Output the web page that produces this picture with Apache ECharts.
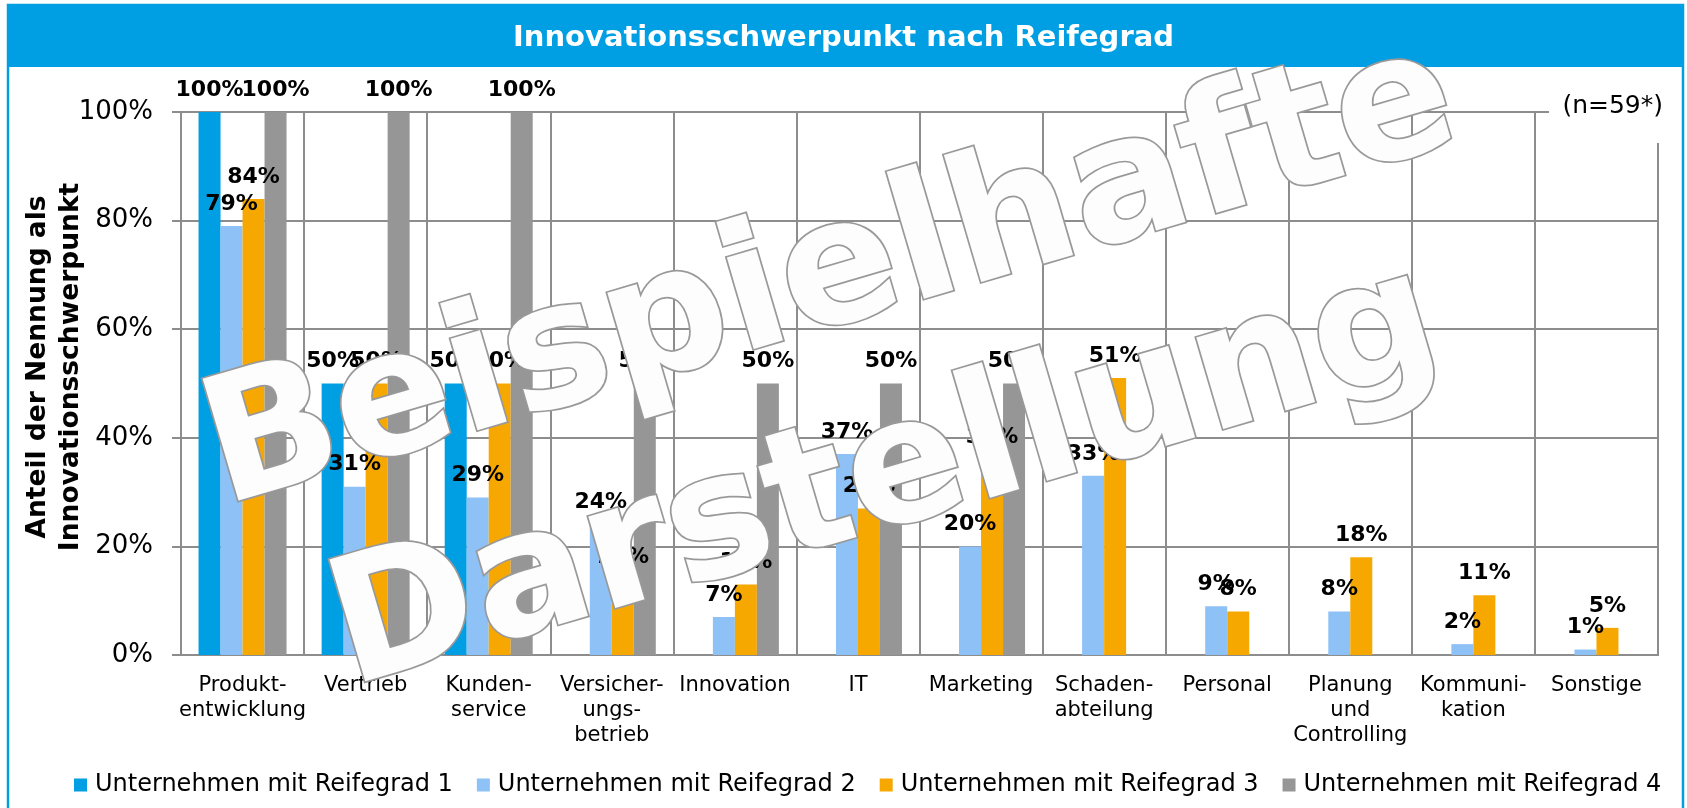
<!DOCTYPE html>
<html>
<head>
<meta charset="utf-8">
<title>Innovationsschwerpunkt nach Reifegrad</title>
<script src="https://cdn.jsdelivr.net/npm/echarts@6/dist/echarts.min.js"></script>
<style>
  html, body { margin: 0; padding: 0; background: #fff; }
  #chart { width: 1687px; height: 808px; }
</style>
</head>
<body>
<div id="chart"></div>
<script>
const categories = [
  'Produkt-\nentwicklung', 'Vertrieb', 'Kunden-\nservice', 'Versicher-\nungs-\nbetrieb',
  'Innovation', 'IT', 'Marketing', 'Schaden-\nabteilung', 'Personal',
  'Planung\nund\nControlling', 'Kommuni-\nkation', 'Sonstige'
]
const seriesNames = [
  'Unternehmen mit Reifegrad 1', 'Unternehmen mit Reifegrad 2',
  'Unternehmen mit Reifegrad 3', 'Unternehmen mit Reifegrad 4'
]
const reifegrad1 = [100, 50, 50, 0, 0, 0, 0, 0, 0, 0, 0, 0]
const reifegrad2 = [79, 31, 29, 24, 7, 37, 20, 33, 9, 8, 2, 1]
const reifegrad3 = [84, 50, 50, 14, 13, 27, 36, 51, 8, 18, 11, 5]
const reifegrad4 = [100, 100, 100, 50, 50, 50, 50, 0, 0, 0, 0, 0]
const yTicks = [0, 20, 40, 60, 80, 100]
const colors = ['#009fe3', '#8ec1f5', '#f7a800', '#969696']

const FONT = "'DejaVu Sans', Verdana, sans-serif"
const GRID_COLOR = '#8d8d8d'

const chart = echarts.init(document.getElementById('chart'))

function makeSeries(name, data, color) {
  return {
    name: name,
    type: 'bar',
    data: data,
    barWidth: 22,
    barGap: '0%',
    itemStyle: { color: color },
    label: {
      show: true,
      position: 'top',
      distance: 11,
      fontFamily: FONT,
      fontWeight: 'bold',
      fontSize: 22,
      color: '#000',
      formatter: p => (p.value > 0 ? p.value + '%' : '')
    },
    labelLayout: { moveOverlap: 'shiftY' }
  }
}

// watermark drawn over the whole chart
const watermarkStyle = {
  fill: '#fdfdfd',
  stroke: '#999',
  lineWidth: 3.5,
  font: 'bold 174px ' + FONT,
  align: 'center',
  verticalAlign: 'middle',
  textAlign: 'center',
  textVerticalAlign: 'middle',
  shadowBlur: 14,
  shadowColor: 'rgba(0,0,0,0.4)',
  shadowOffsetX: 2,
  shadowOffsetY: 3
}
const wmAngle = 16.4 * Math.PI / 180

const option = {
  animation: false,
  backgroundColor: '#fff',
  textStyle: { fontFamily: FONT },
  title: {
    text: 'Innovationsschwerpunkt nach Reifegrad',
    left: 'center',
    top: 19,
    textStyle: { color: '#fff', fontSize: 29, fontWeight: 'bold', fontFamily: FONT }
  },
  grid: {
    left: 181,
    right: 29,
    top: 112,
    bottom: 153,
    show: true,
    borderColor: GRID_COLOR,
    borderWidth: 2
  },
  legend: {
    data: seriesNames,
    left: 74,
    top: 773,
    icon: 'rect',
    itemWidth: 13,
    itemHeight: 13,
    itemGap: 24,
    padding: 0,
    textStyle: { fontSize: 24, color: '#000', fontFamily: FONT, padding: [0, 0, 0, 3] }
  },
  xAxis: {
    type: 'category',
    data: categories,
    axisLine: { lineStyle: { color: GRID_COLOR, width: 2 } },
    axisTick: { show: false },
    splitLine: { show: true, lineStyle: { color: GRID_COLOR, width: 2 } },
    axisLabel: {
      interval: 0,
      fontSize: 21,
      lineHeight: 25,
      margin: 18,
      color: '#000',
      fontFamily: FONT
    }
  },
  yAxis: {
    type: 'value',
    min: yTicks[0],
    max: yTicks[yTicks.length - 1],
    interval: 20,
    axisLine: { show: true, lineStyle: { color: GRID_COLOR, width: 2 } },
    axisTick: { show: true, length: 9, lineStyle: { color: GRID_COLOR, width: 2 } },
    splitLine: { lineStyle: { color: GRID_COLOR, width: 2 } },
    axisLabel: {
      formatter: '{value}%',
      fontSize: 26,
      margin: 28,
      color: '#000',
      fontFamily: FONT
    }
  },
  series: [
    makeSeries(seriesNames[0], reifegrad1, colors[0]),
    makeSeries(seriesNames[1], reifegrad2, colors[1]),
    makeSeries(seriesNames[2], reifegrad3, colors[2]),
    makeSeries(seriesNames[3], reifegrad4, colors[3])
  ],
  graphic: [
    // frame + title bar
    {
      type: 'rect', z: -10, silent: true,
      shape: { x: 8, y: 5, width: 1675, height: 830 },
      style: { fill: 'none', stroke: '#009fe3', lineWidth: 2.5 }
    },
    {
      type: 'rect', z: -9, silent: true,
      shape: { x: 8, y: 5, width: 1675, height: 62 },
      style: { fill: '#009fe3' }
    },
    // y axis title
    {
      type: 'text', z: 10, x: 55, y: 367, rotation: Math.PI / 2,
      style: {
        text: 'Anteil der Nennung als\nInnovationsschwerpunkt',
        font: 'bold 26.5px ' + FONT,
        lineHeight: 33,
        fill: '#000',
        align: 'center', verticalAlign: 'middle',
        textAlign: 'center', textVerticalAlign: 'middle'
      }
    },
    // n label
    {
      type: 'rect', z: 20, silent: true,
      shape: { x: 1549, y: 80, width: 132, height: 63 },
      style: { fill: '#fff' }
    },
    {
      type: 'text', z: 21, x: 1663, y: 106,
      style: {
        text: '(n=59*)', font: '25px ' + FONT, fill: '#000',
        align: 'right', verticalAlign: 'middle',
        textAlign: 'right', textVerticalAlign: 'middle'
      }
    },
    {
      type: 'text', z: 100, x: 831, y: 279, rotation: wmAngle,
      style: Object.assign({ text: 'Beispielhafte' }, watermarkStyle)
    },
    {
      type: 'text', z: 100, x: 886, y: 481, rotation: wmAngle,
      style: Object.assign({ text: 'Darstellung' }, watermarkStyle)
    }
  ]
}

chart.setOption(option)
</script>
</body>
</html>
